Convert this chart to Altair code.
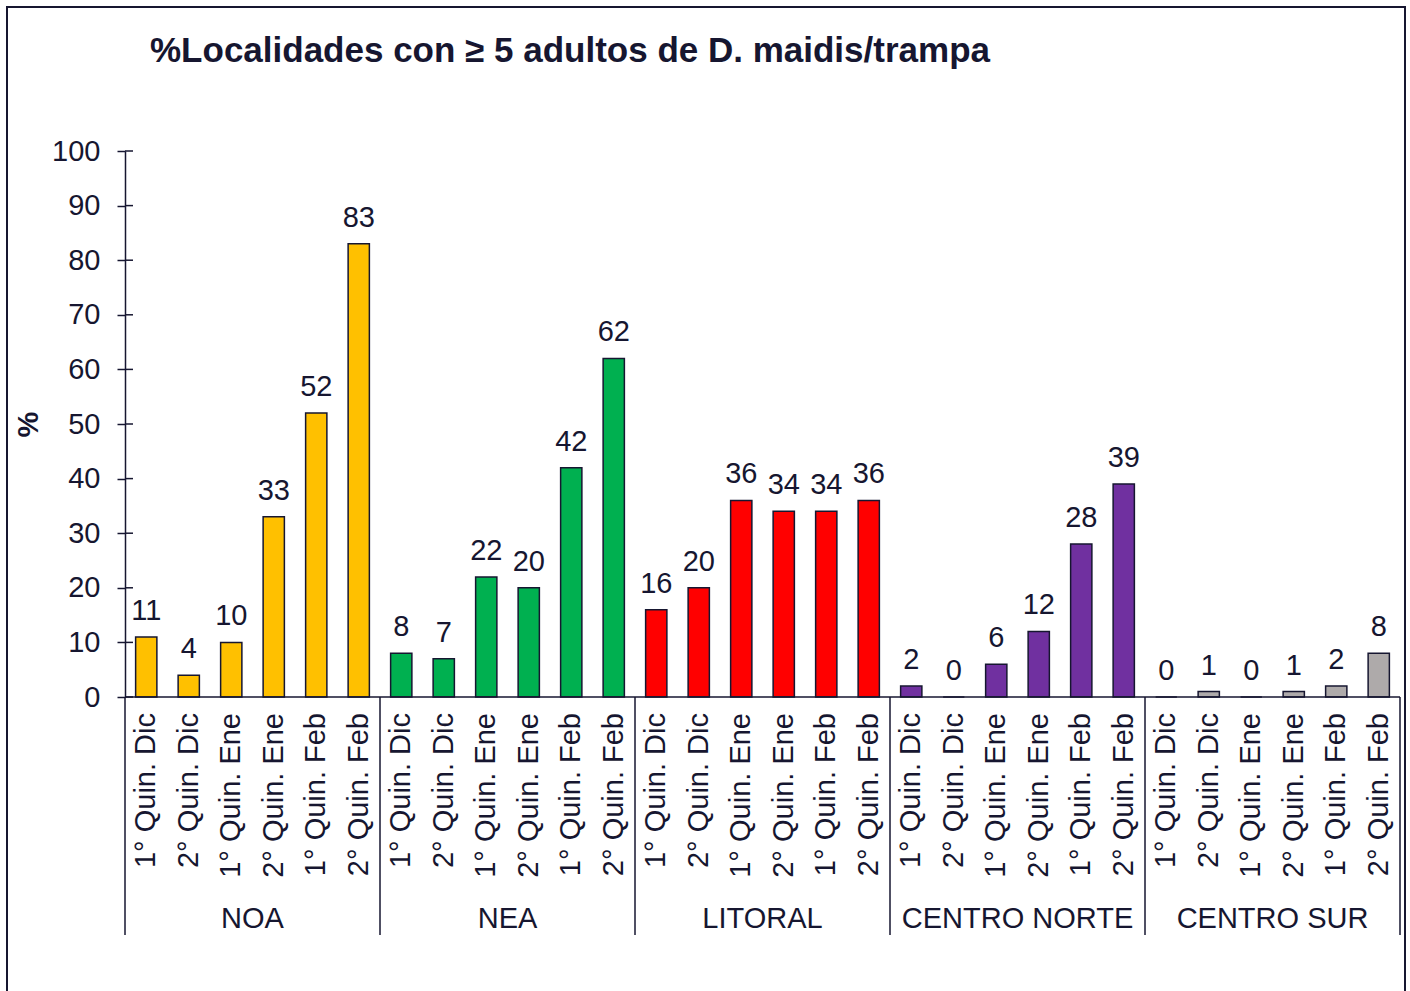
import altair as alt
import pandas as pd

regions = ["NOA", "NEA", "LITORAL", "CENTRO NORTE", "CENTRO SUR"]
periods = ["1° Quin. Dic", "2° Quin. Dic", "1° Quin. Ene", "2° Quin. Ene", "1° Quin. Feb", "2° Quin. Feb"]
noa = [11, 4, 10, 33, 52, 83]
nea = [8, 7, 22, 20, 42, 62]
litoral = [16, 20, 36, 34, 34, 36]
centro_norte = [2, 0, 6, 12, 28, 39]
centro_sur = [0, 1, 0, 1, 2, 8]
colors = ["#FFC000", "#00B050", "#FF0000", "#7030A0", "#AEAAAA"]
y_ticks = list(range(0, 101, 10))
title_text = "%Localidades con ≥ 5 adultos de D. maidis/trampa"

series = [noa, nea, litoral, centro_norte, centro_sur]
n_per = len(periods)
rows = []
for g, (reg, vals) in enumerate(zip(regions, series)):
    for p, (per, v) in enumerate(zip(periods, vals)):
        rows.append({"region": reg, "period": per, "value": v, "idx": g * n_per + p})
df = pd.DataFrame(rows)
n_cat = len(df)

df_div = pd.DataFrame({"b": list(range(0, n_cat + 1, n_per))})
df_reg = pd.DataFrame({"region": regions, "c": [g * n_per + n_per / 2 for g in range(len(regions))]})
df_ticks = pd.DataFrame({"t": y_ticks})
one = pd.DataFrame({"a": [0]})

W, H = 1275, 546
INK = "#161630"
FONT = "Liberation Sans"
FS = 29

xs = alt.Scale(domain=[0, n_cat], nice=False, zero=False)
ys = alt.Scale(domain=[0, 100], nice=False)

base = alt.Chart(df).transform_calculate(
    x0="datum.idx + 0.25", x1="datum.idx + 0.75", xc="datum.idx + 0.5"
)

bars = base.mark_bar(stroke=INK, strokeWidth=1.5).encode(
    x=alt.X("x0:Q", scale=xs, axis=None),
    x2="x1:Q",
    y=alt.Y(
        "value:Q",
        scale=ys,
        axis=alt.Axis(
            values=y_ticks, tickSize=8, tickColor=INK, tickWidth=1.5,
            domainColor=INK, domainWidth=1.5, grid=False,
            labelFont=FONT, labelFontSize=FS, labelColor=INK, labelPadding=17,
            title="%", titleFont=FONT, titleFontSize=FS, titleFontWeight="bold",
            titleColor=INK, titleX=-97, titleY=273, titleAngle=270,
            titleAlign="center", titleBaseline="middle",
        ),
    ),
    y2=alt.datum(0),
    color=alt.Color("region:N", scale=alt.Scale(domain=regions, range=colors), legend=None),
)

values = base.mark_text(dy=-17, baseline="alphabetic", font=FONT, fontSize=FS, color=INK).encode(
    x=alt.X("xc:Q", scale=xs),
    y=alt.Y("value:Q", scale=ys),
    text="value:Q",
)

period_labels = base.mark_text(
    angle=270, align="right", baseline="middle", font=FONT, fontSize=FS, color=INK
).encode(
    x=alt.X("xc:Q", scale=xs),
    y=alt.value(H + 16),
    text="period:N",
)

inner_ticks = alt.Chart(df_ticks).mark_rule(color=INK, strokeWidth=1.5).encode(
    y=alt.Y("t:Q", scale=ys),
    x=alt.value(0),
    x2=alt.value(8),
)

baseline = alt.Chart(one).mark_rule(color=INK, strokeWidth=1.5).encode(
    x=alt.value(0), x2=alt.value(W), y=alt.value(H)
)

dividers = alt.Chart(df_div).mark_rule(color=INK, strokeWidth=1.5).encode(
    x=alt.X("b:Q", scale=xs),
    y=alt.value(H),
    y2=alt.value(784),
)

region_labels = alt.Chart(df_reg).mark_text(
    baseline="alphabetic", align="center", font=FONT, fontSize=FS, color=INK
).encode(
    x=alt.X("c:Q", scale=xs),
    y=alt.value(777),
    text="region:N",
)

title = alt.Chart(one).mark_text(
    align="left", baseline="alphabetic", font=FONT, fontSize=35, fontWeight="bold", color=INK
).encode(
    x=alt.value(25), y=alt.value(-89), text=alt.value(title_text)
)

border = alt.Chart(one).mark_rect(fillOpacity=0, stroke=INK, strokeWidth=2).encode(
    x=alt.value(-118), x2=alt.value(1280), y=alt.value(-144), y2=alt.value(1000)
)

chart = alt.layer(
    border, bars, baseline, inner_ticks, dividers, values, period_labels, region_labels, title
).properties(
    width=W,
    height=H,
    autosize=alt.AutoSizeParams(type="none"),
    padding={"left": 125, "top": 151, "right": 10, "bottom": 294},
    background="white",
).configure_view(stroke=None)

chart.save("out.html", embed_options={"renderer": "svg", "actions": False})
